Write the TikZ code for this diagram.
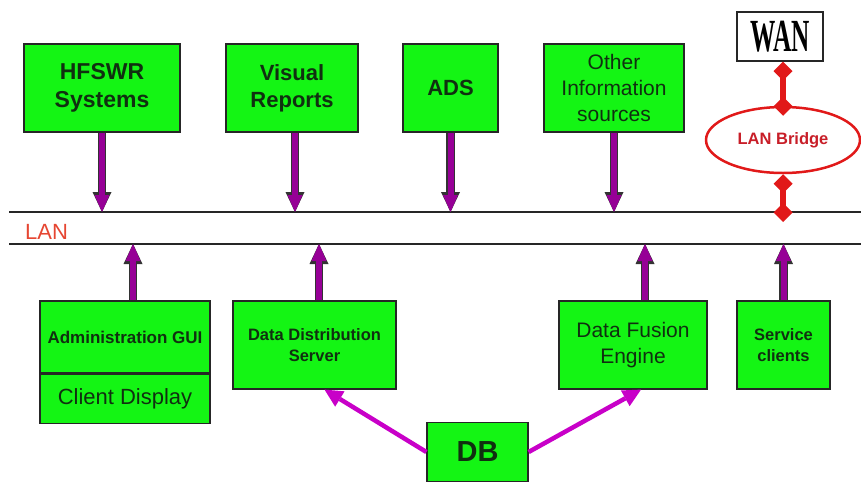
\documentclass[tikz,border=0pt]{standalone}
\usepackage{fontspec}
\setmainfont{Liberation Sans}
\newfontfamily\wanfont{Liberation Serif}
\usetikzlibrary{shapes,arrows.meta,positioning,calc}

\definecolor{boxgreen}{RGB}{20,245,20}
\definecolor{textgreen}{RGB}{16,48,16}
\definecolor{buspurple}{RGB}{150,0,150}
\definecolor{dbpurple}{RGB}{200,0,200}
\definecolor{bridgered}{RGB}{225,25,25}
\definecolor{bridgetext}{RGB}{200,30,40}
\definecolor{lanred}{RGB}{230,70,50}

\begin{document}
\begin{tikzpicture}[x=1pt,y=-1pt,
    box/.style={rectangle, draw=black!85, line width=1.2pt, fill=boxgreen, text=textgreen, align=center, inner sep=0pt},
    busarrow/.style={draw=buspurple, line width=6pt, -{Triangle[length=17pt,width=15pt,line width=0pt]},
        preaction={draw=black!80, line width=8.5pt, -{Triangle[length=20pt,width=19pt,line width=0pt]}}},
    dbarrow/.style={draw=dbpurple, line width=4.5pt, -{Triangle[length=18pt,width=18pt,line width=0pt]}},
    redlink/.style={draw=bridgered, line width=5.5pt, {Diamond[length=19pt,width=19pt,line width=0pt]}-{Diamond[length=19pt,width=19pt,line width=0pt]}},
    lanline/.style={draw=black!85, line width=1.2pt}]
    \useasboundingbox (0,0) rectangle (861,482);

    % sources above the LAN
    \node (hfswr) [box, minimum width=156, minimum height=88, font=\bfseries\fontsize{23}{28}\selectfont] at (102,88) {HFSWR\\Systems};
    \node (visual) [box, minimum width=132, minimum height=88, font=\bfseries\fontsize{22}{27}\selectfont] at (292,88) {Visual\\Reports};
    \node (ads) [box, minimum width=95, minimum height=88, font=\bfseries\fontsize{22}{27}\selectfont] at (450.5,88) {ADS};
    \node (other) [box, minimum width=140, minimum height=88, font=\fontsize{21}{26}\selectfont] at (614,88) {Other\\Information\\sources};
    \node (wan) [rectangle, draw=black!85, line width=1.2pt, fill=white, minimum width=86, minimum height=49, inner sep=0pt] at (780,36.5) {\wanfont\bfseries\fontsize{46}{46}\selectfont\scalebox{0.55}[1]{WAN}};
    \node (bridge) [ellipse, draw=bridgered, line width=2.5pt, fill=white, minimum width=154, minimum height=66, text=bridgetext, font=\bfseries\fontsize{16.5}{20}\selectfont] at (783,140) {LAN Bridge};

    % LAN
    \coordinate (lanA) at (9,212);
    \coordinate (lanAend) at (861,212);
    \coordinate (lanB) at (9,244);
    \coordinate (lanBend) at (861,244);
    \draw [lanline] (lanA) -- (lanAend);
    \draw [lanline] (lanB) -- (lanBend);
    \node (lan) [anchor=west, text=lanred, inner sep=0pt, font=\fontsize{22}{26}\selectfont] at (25,232) {LAN};

    % clients below the LAN
    \node (admin) [box, minimum width=170, minimum height=72, font=\bfseries\fontsize{17}{20}\selectfont] at (125,337) {Administration GUI};
    \node (client) [box, below=0pt of admin, minimum width=170, minimum height=49, font=\fontsize{22}{26}\selectfont] {Client Display};
    \node (dds) [box, minimum width=163, minimum height=88, font=\bfseries\fontsize{16.5}{21}\selectfont] at (314.5,345) {Data Distribution\\Server};
    \node (dfe) [box, minimum width=148, minimum height=88, font=\fontsize{21}{26}\selectfont] at (633,345) {Data Fusion\\Engine};
    \node (svc) [box, minimum width=93, minimum height=88, font=\bfseries\fontsize{16.5}{21}\selectfont] at (783.5,345) {Service\\clients};
    \node (db) [box, minimum width=101, minimum height=59, font=\bfseries\fontsize{29}{32}\selectfont] at (477.5,452) {DB};

    \draw [busarrow] (hfswr.south) -- (hfswr.south |- lanA);
    \draw [busarrow] ([xshift=3pt]visual.south) -- ([xshift=3pt]visual.south |- lanA);
    \draw [busarrow] (ads.south) -- (ads.south |- lanA);
    \draw [busarrow] (other.south) -- (other.south |- lanA);

    \draw [busarrow] ([xshift=8pt]admin.north) -- ([xshift=8pt]admin.north |- lanB);
    \draw [busarrow] ([xshift=4.5pt]dds.north) -- ([xshift=4.5pt]dds.north |- lanB);
    \draw [busarrow] ([xshift=12pt]dfe.north) -- ([xshift=12pt]dfe.north |- lanB);
    \draw [busarrow] (svc.north) -- (svc.north |- lanB);

    \draw [dbarrow] (db.west) -- ([xshift=10pt]dds.south);
    \draw [dbarrow] (db.east) -- ([xshift=8pt]dfe.south);

    \draw [redlink, shorten >=-10pt] (wan.south -| bridge.north) -- (bridge.north);
    \draw [redlink, shorten >=-10pt] (bridge.south) -- (bridge.south |- lanA);
\end{tikzpicture}
\end{document}
